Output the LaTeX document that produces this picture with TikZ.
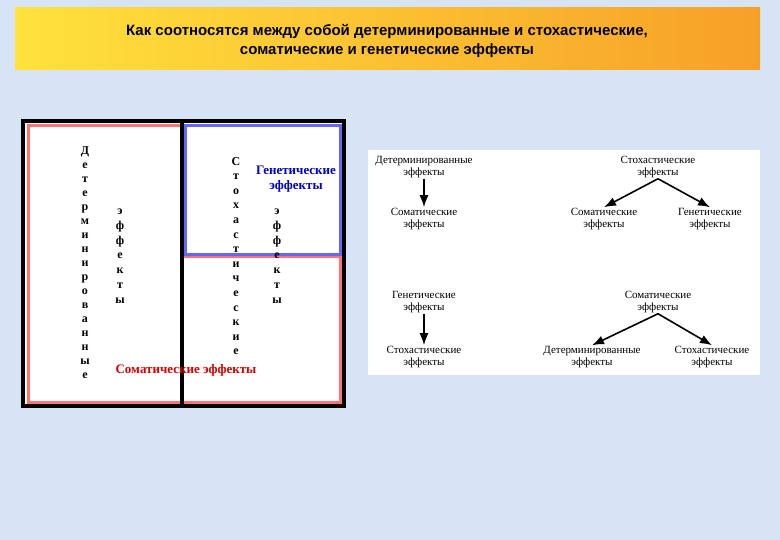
\documentclass[tikz,border=0pt]{standalone}
\usepackage{fontspec}
\usetikzlibrary{arrows.meta}
\setmainfont{Liberation Serif}
\newfontfamily\hdr{Liberation Sans}
\begin{document}
\begin{tikzpicture}[x=1pt,y=-1pt,
  lab/.style={font=\fontsize{11}{11.5}\selectfont,align=center,inner sep=1pt},
  col/.style={font=\bfseries\fontsize{12}{14}\selectfont,align=center,inner sep=0pt},
  arr/.style={-{Latex[length=12pt,width=9pt]},line width=1.6pt}]
\useasboundingbox (0,0) rectangle (780,540);
\fill[fill={rgb,255:red,214;green,228;blue,245}] (0,0) rectangle (780,540);
\shade[left color={rgb,255:red,255;green,226;blue,60},right color={rgb,255:red,247;green,160;blue,40}] (15,8) rectangle (760,70);
\node[font=\hdr\bfseries\fontsize{15}{19}\selectfont,align=center] (title) at (387,41) {Как соотносятся между собой детерминированные и стохастические,\\ соматические и генетические эффекты};
% left figure
\fill[white] (23,119) rectangle (345,407);
\draw[line width=3pt,red!55] (28,126) rectangle (181,402);
\draw[line width=3pt,red!55] (181,257) rectangle (340,402);
\draw[line width=3pt,blue!60] (185,126) rectangle (340,255);
\draw[line width=3.5pt] (23,121) rectangle (344,406);
\draw[line width=3.5pt] (182,121) -- (182,406);
\node[col] (c1) at (85,263) {Д\\е\\т\\е\\р\\м\\и\\н\\и\\р\\о\\в\\а\\н\\н\\ы\\е};
\node[col,font=\bfseries\fontsize{12}{14.8}\selectfont] (c2) at (120,256) {э\\ф\\ф\\е\\к\\т\\ы};
\node[col,font=\bfseries\fontsize{12}{14.6}\selectfont] (c3) at (236,256) {С\\т\\о\\х\\а\\с\\т\\и\\ч\\е\\с\\к\\и\\е};
\node[col,font=\bfseries\fontsize{12}{14.8}\selectfont] (c4) at (277,256) {э\\ф\\ф\\е\\к\\т\\ы};
\node[col,text=blue!80!black,font=\bfseries\fontsize{13}{15}\selectfont] (gen) at (296,179) {Генетические\\ эффекты};
\node[col,text=red!85!black,font=\bfseries\fontsize{13}{15}\selectfont] (som) at (186,370) {Соматические эффекты};
% right panel
\fill[white] (368,150) rectangle (760,375);
\node[lab] (a1) at (424,167) {Детерминированные\\эффекты};
\node[lab] (a2) at (424,219) {Соматические\\эффекты};
\node[lab] (b1) at (658,167) {Стохастические\\эффекты};
\node[lab] (b2) at (604,219) {Соматические\\эффекты};
\node[lab] (b3) at (710,219) {Генетические\\эффекты};
\node[lab] (c5) at (424,302) {Генетические\\эффекты};
\node[lab] (c6) at (424,357) {Стохастические\\эффекты};
\node[lab] (d1) at (658,302) {Соматические\\эффекты};
\node[lab] (d2) at (592,357) {Детерминированные\\эффекты};
\node[lab] (d3) at (712,357) {Стохастические\\эффекты};
\draw[arr] (a1) -- (a2);
\draw[arr] (b1.south) -- (b2.north);
\draw[arr] (b1.south) -- (b3.north);
\draw[arr] (c5) -- (c6);
\draw[arr] (d1.south) -- (d2.north);
\draw[arr] (d1.south) -- (d3.north);
\end{tikzpicture}
\end{document}
